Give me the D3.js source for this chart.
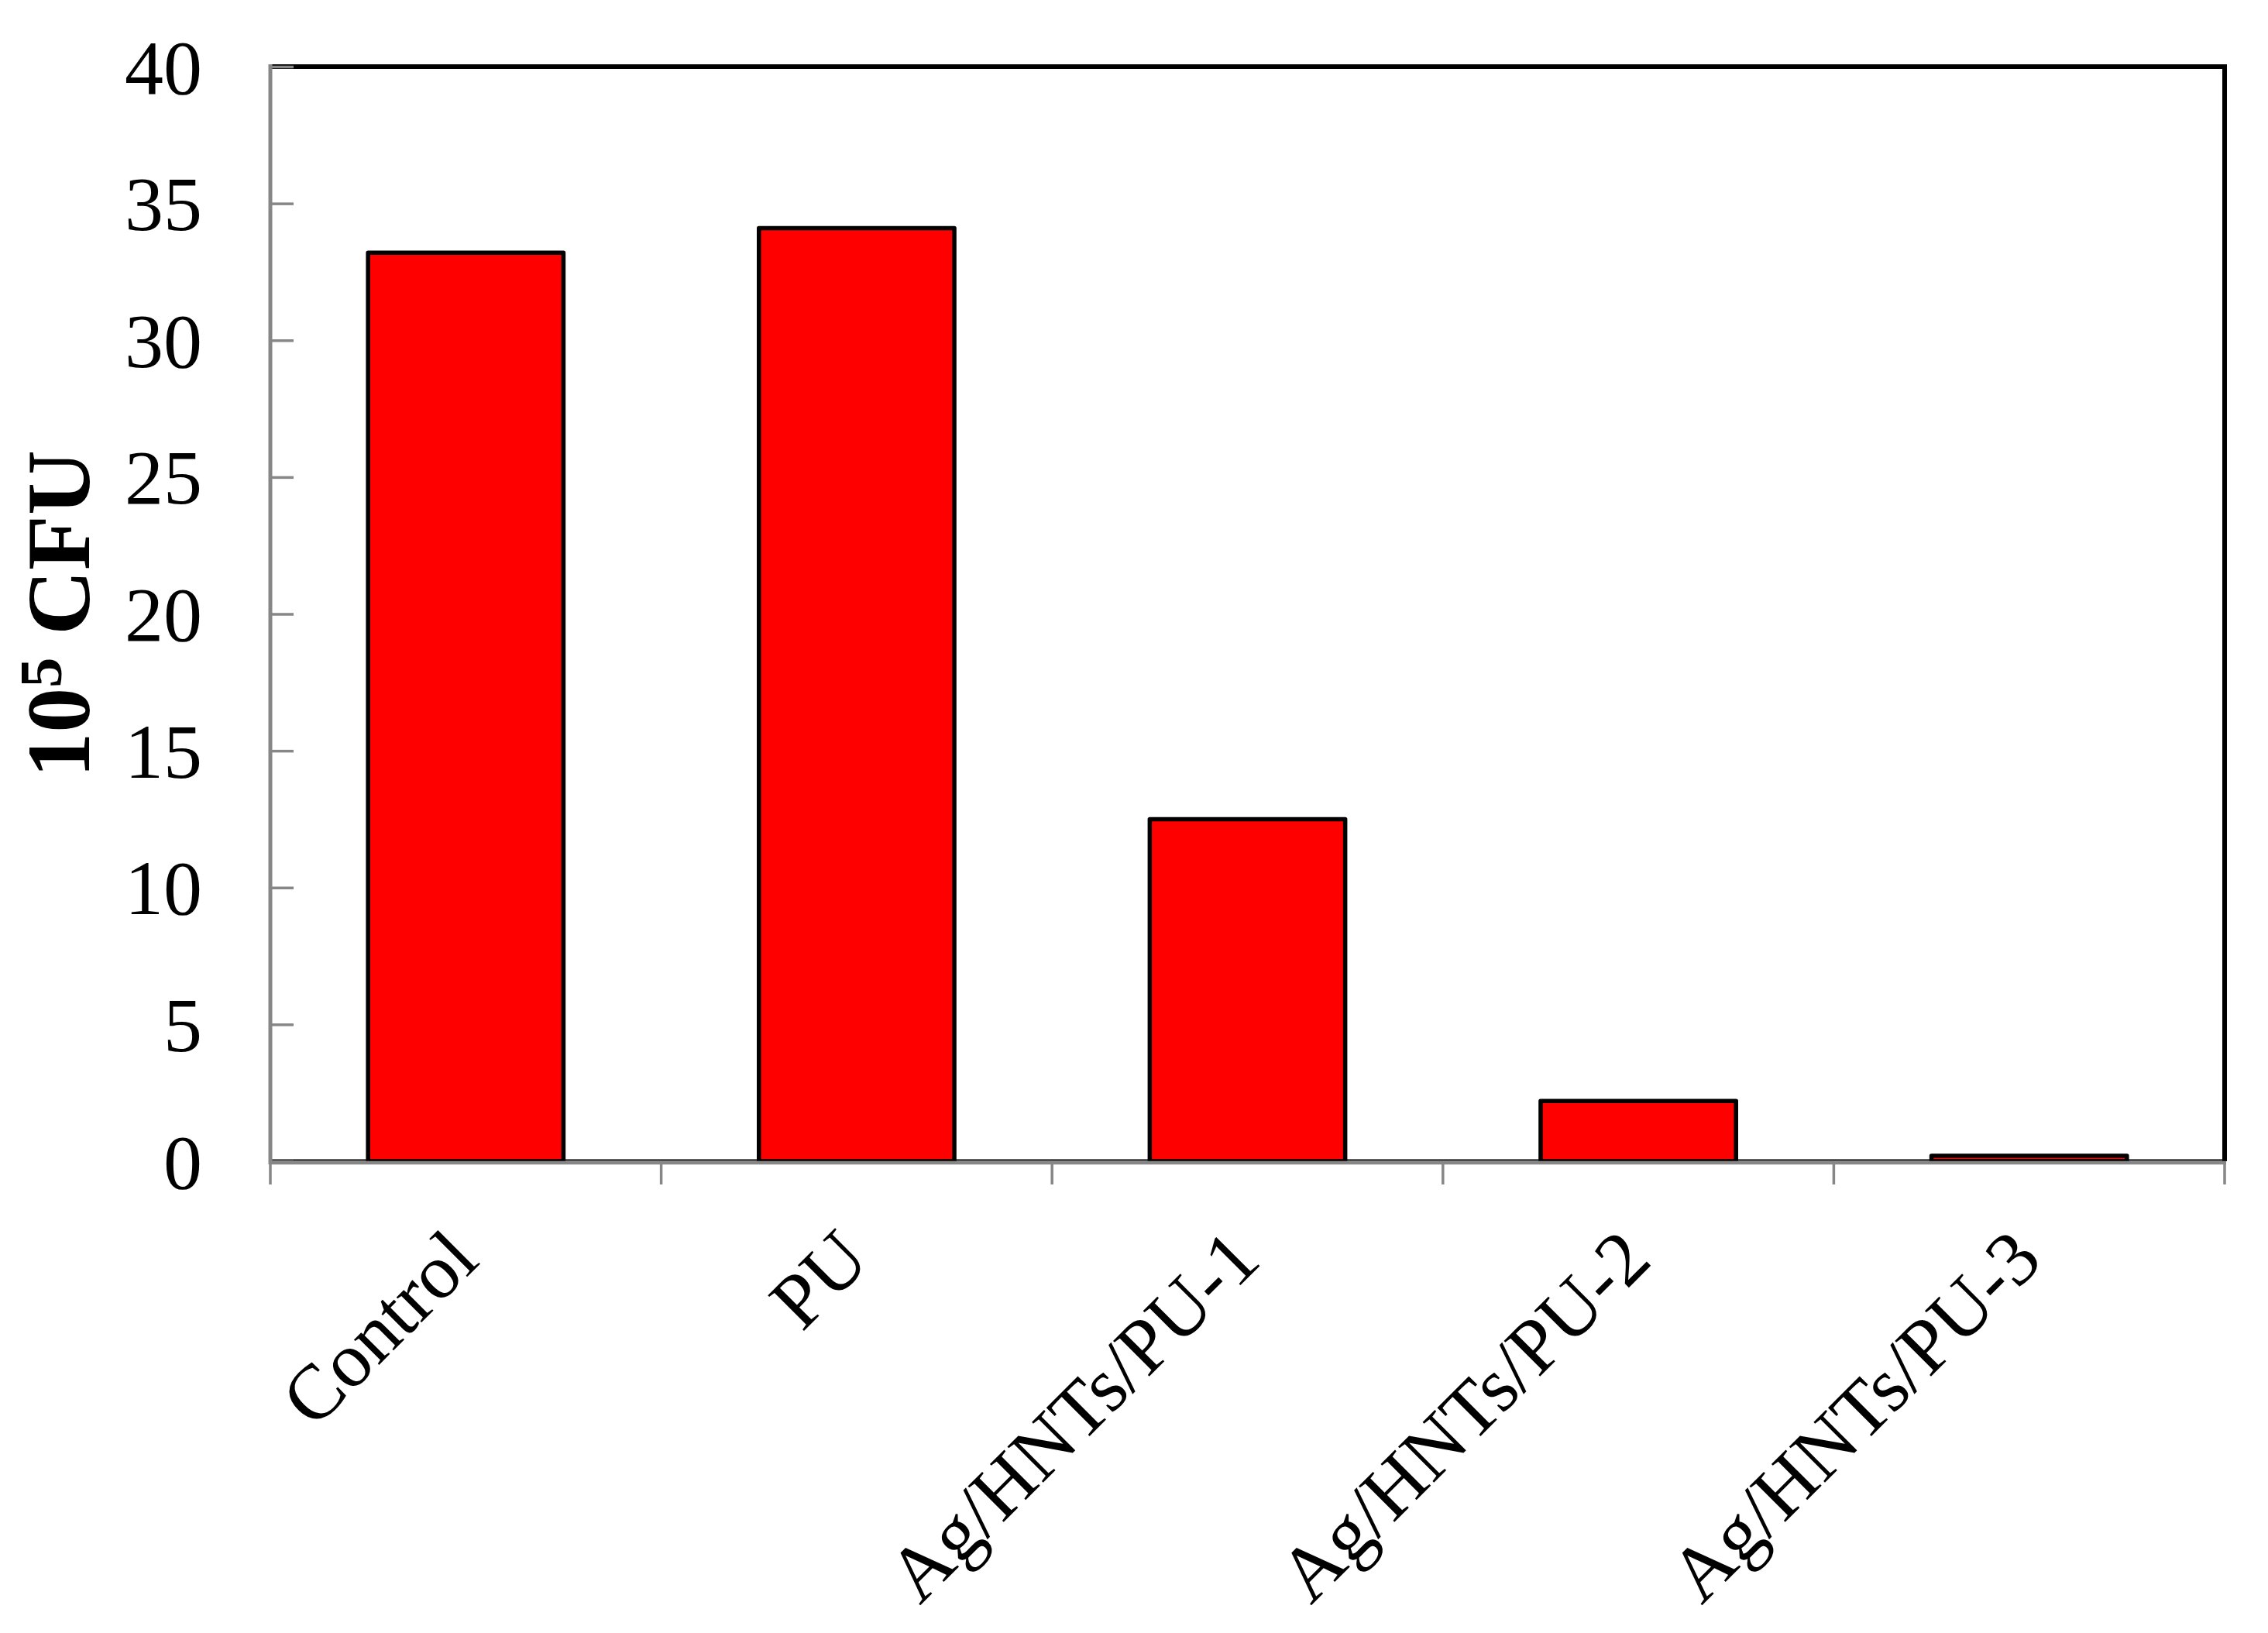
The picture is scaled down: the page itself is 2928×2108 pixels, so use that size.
<!DOCTYPE html>
<html>
<head>
<meta charset="utf-8">
<script src="https://cdn.jsdelivr.net/npm/d3@7"></script>
<style>
  body { margin: 0; background: #fff; }
  text { font-family: "Liberation Serif", "Times New Roman", serif; fill: #000; }
</style>
</head>
<body>
<svg></svg>
<script>
'use strict';

const width = 2928, height = 2108;

// data
const categories = ["Control", "PU", "Ag/HNTs/PU-1", "Ag/HNTs/PU-2", "Ag/HNTs/PU-3"];
const cfu = [33.2, 34.1, 12.5, 2.2, 0.2];
const yTicks = [0, 5, 10, 15, 20, 25, 30, 35, 40];

const plotLeft = 349, plotRight = 2872, plotTop = 86, plotBottom = 1499;
const grey = "#878787";

let svg = d3.select("svg")
  .attr("width", width)
  .attr("height", height)
  .attr("viewBox", [0, 0, width, height]);

svg.append("rect")
  .attr("width", width)
  .attr("height", height)
  .attr("fill", "#fff");

let x = d3.scaleBand()
  .domain(categories)
  .range([plotLeft, plotRight])
  .paddingInner(0.5)
  .paddingOuter(0.25);

let y = d3.scaleLinear()
  .domain([0, 40])
  .range([plotBottom, plotTop]);

// plot frame: black top / right, thin black bottom
let frame = svg.append("g").attr("stroke", "#000");
frame.append("line")
  .attr("x1", plotLeft).attr("x2", plotRight + 3)
  .attr("y1", y(40)).attr("y2", y(40))
  .attr("stroke-width", 6);
frame.append("line")
  .attr("x1", plotRight).attr("x2", plotRight)
  .attr("y1", y(40) - 3).attr("y2", y(0))
  .attr("stroke-width", 6);
frame.append("line")
  .attr("x1", plotLeft).attr("x2", plotRight)
  .attr("y1", y(0) - 1.5).attr("y2", y(0) - 1.5)
  .attr("stroke-width", 2);

// bars
svg.append("g")
  .selectAll("rect")
  .data(categories.map((c, i) => ({ name: c, value: cfu[i] })))
  .join("rect")
    .attr("x", d => x(d.name))
    .attr("y", d => y(d.value))
    .attr("width", x.bandwidth())
    .attr("height", d => y(0) - y(d.value))
    .attr("fill", "#ff0000")
    .attr("stroke", "#000")
    .attr("stroke-width", 5.5)
    .attr("stroke-linejoin", "round");

// y axis (ticks inward, labels far left)
let yAxis = svg.append("g")
  .attr("transform", `translate(${plotLeft},0)`)
  .call(d3.axisLeft(y).tickValues(yTicks).tickSize(-30).tickPadding(88));

yAxis.select(".domain").remove();
yAxis.selectAll(".tick line")
  .attr("stroke", grey)
  .attr("stroke-width", 3.5);
yAxis.selectAll(".tick text")
  .attr("font-family", "'Liberation Serif', 'Times New Roman', serif")
  .attr("font-size", 100)
  .attr("dy", "0.34em");

svg.append("line")
  .attr("x1", plotLeft).attr("x2", plotLeft)
  .attr("y1", y(40) - 3).attr("y2", y(0) + 4)
  .attr("stroke", grey)
  .attr("stroke-width", 5);

// x axis line and boundary ticks
svg.append("line")
  .attr("x1", plotLeft - 2).attr("x2", plotRight + 2)
  .attr("y1", y(0) + 2).attr("y2", y(0) + 2)
  .attr("stroke", grey)
  .attr("stroke-width", 4.5);

let bounds = categories.map(c => x(c) - x.step() * 0.25);
bounds.push(plotRight);
svg.append("g")
  .selectAll("line")
  .data(bounds)
  .join("line")
    .attr("x1", d => d).attr("x2", d => d)
    .attr("y1", y(0) + 2).attr("y2", y(0) + 30)
    .attr("stroke", grey)
    .attr("stroke-width", 3.5);

// rotated category labels
svg.append("g")
  .selectAll("text")
  .data(categories)
  .join("text")
    .attr("transform", d => `translate(${x(d) + x.bandwidth() / 2 + 20},1630) rotate(-45)`)
    .attr("text-anchor", "end")
    .attr("font-size", 100)
    .text(d => d);

// y title: 10^5 CFU
let title = svg.append("text")
  .attr("transform", `translate(115,${(y(0) + y(40)) / 2}) rotate(-90)`)
  .attr("text-anchor", "middle")
  .attr("font-size", 116)
  .attr("font-weight", "bold");
title.append("tspan").text("10");
title.append("tspan").attr("font-size", 78).attr("dy", -36).text("5");
title.append("tspan").attr("dy", 36).text(" CFU");
</script>
</body>
</html>
